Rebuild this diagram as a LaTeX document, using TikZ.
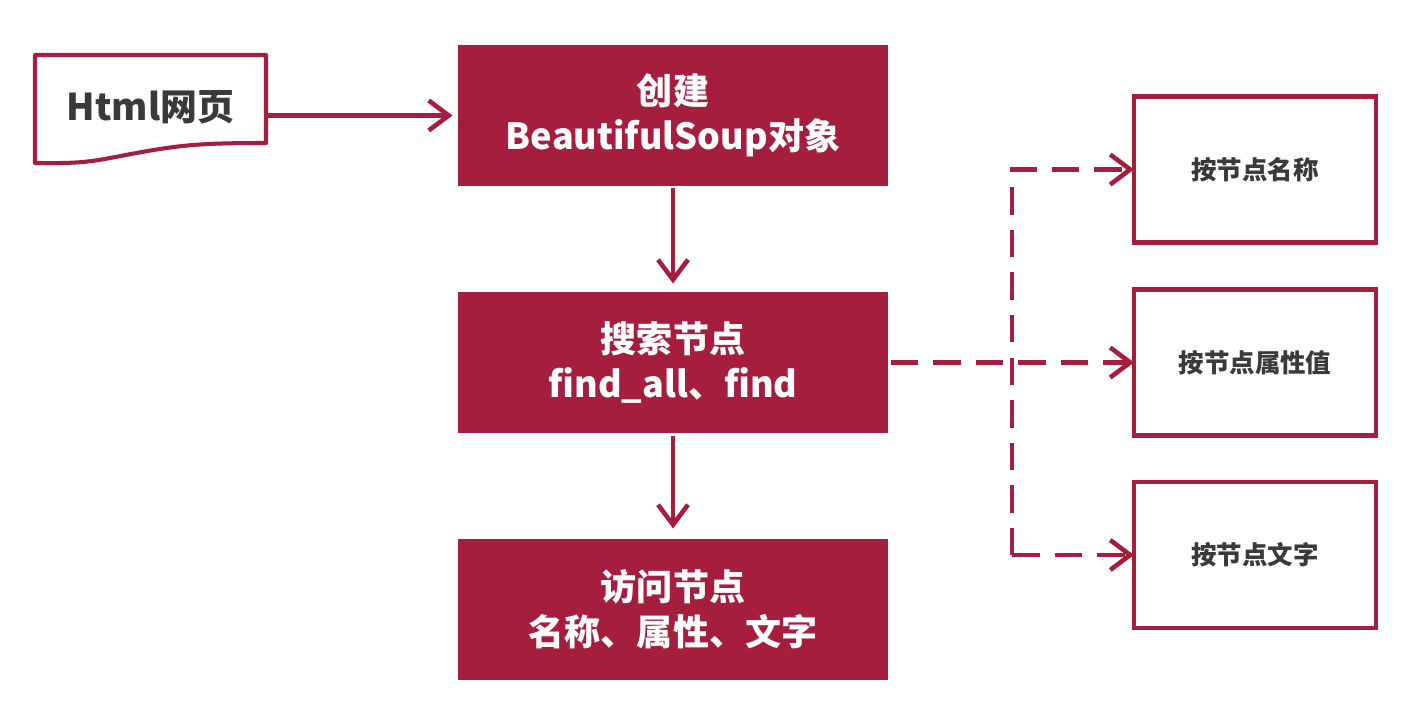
\documentclass[tikz,border=0pt]{standalone}
\usepackage{fontspec}
\setmainfont{Noto Sans CJK SC}
\usetikzlibrary{arrows.meta,positioning,shadows,backgrounds}
\definecolor{boxred}{RGB}{166,30,62}
\definecolor{txtgray}{RGB}{58,58,58}

\begin{document}
\begin{tikzpicture}[node distance=2.02cm,>={Straight Barb[length=0.4cm,width=0.6cm,line width=2.6pt]},
    every node/.append style={align=center,font=\bfseries,outer sep=0pt},
    main/.style={fill=boxred, draw=white, line width=3pt, text=white, minimum width=8.7cm, minimum height=2.92cm,
      font=\bfseries\fontsize{20.5}{25.5}\selectfont, drop shadow={shadow xshift=0.6pt,shadow yshift=-1.6pt,opacity=.3}},
    way/.style={fill=white, draw=boxred, line width=2.3pt, text=txtgray, minimum width=4.84cm, minimum height=2.92cm,
      font=\bfseries\fontsize{14.5}{18}\selectfont, drop shadow={shadow xshift=0.6pt,shadow yshift=-1.2pt,opacity=.2}},
    arr/.style={->, draw=boxred, line width=2.8pt},
    dline/.style={->, draw=boxred, line width=2.8pt, dash pattern=on 0.55cm off 0.3cm}]
  \useasboundingbox (0,0) rectangle (28.52,14.48);

  \node [main] (create) at (13.46,12.17) {创建\\BeautifulSoup对象};
  \node [main, below=of create] (search) {搜索节点\\find\_all、find};
  \node [main, below=of search] (visit) {访问节点\\名称、属性、文字};
  \node [minimum width=4.62cm, minimum height=2.16cm, text=txtgray, font=\bfseries\fontsize{21}{25}\selectfont,
         left=3.79cm of create, yshift=0.13cm] (html) {\raisebox{0.12cm}{Html网页}};
  \node [way, right=4.87cm of search] (byattr) {按节点属性值};
  \node [way, above=0.94cm of byattr] (byname) {按节点名称};
  \node [way, below=0.93cm of byattr] (bytext) {按节点文字};

  % document shape behind the html node
  \begin{scope}[on background layer]
    \draw [draw=boxred, line width=2.3pt, line join=round, fill=white,
           drop shadow={shadow xshift=0.6pt,shadow yshift=-1.2pt,opacity=.2}]
      (html.north west) -- (html.north east) -- ([yshift=0.4cm]html.south east)
      .. controls +(-1.5,0) and +(1.3,0.25) .. ([xshift=1.5cm,yshift=0.1cm]html.south west)
      .. controls +(-0.6,-0.12) and +(0.5,0) .. (html.south west) -- cycle;
  \end{scope}

  \coordinate [right=2.43cm of search.east] (split);

  \path (html.east |- create.west) edge[arr, shorten >=0.06cm] (create.west)
        (create) edge[arr, shorten >=0.12cm] (search)
        (search) edge[arr, shorten >=0.16cm] (visit);
  \draw[dline] (search.east) -- (byattr.west);
  \draw[dline] (split |- bytext.west) -- (split |- byname.west) -- (byname.west);
  \draw[dline] (split |- bytext.west) -- (bytext.west);
\end{tikzpicture}
\end{document}
